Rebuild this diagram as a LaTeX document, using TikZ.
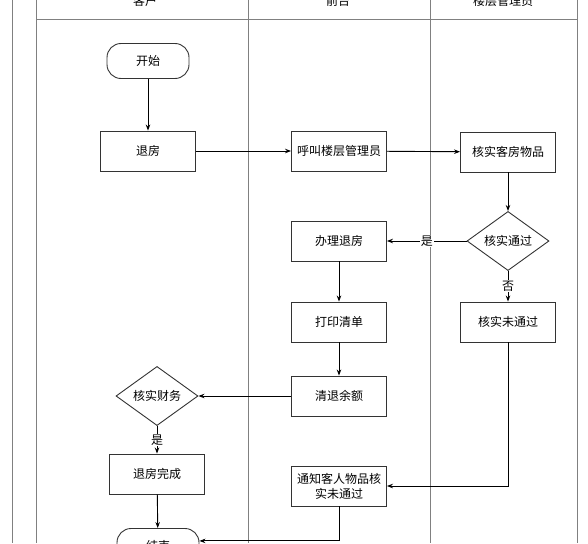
\documentclass[tikz,border=0pt]{standalone}
\usepackage{fontspec}
\newfontfamily\cjk{Noto Sans CJK SC}
\usetikzlibrary{shapes,arrows.meta}
\tikzset{
        box/.style={draw=black!80, line width=0.9pt, minimum width=95pt, minimum height=40pt, align=center, font=\cjk\fontsize{12}{15}\selectfont},
        term/.style={draw=black!80, line width=0.9pt, rounded corners=14pt, minimum width=82pt, minimum height=35pt, font=\cjk\fontsize{12}{15}\selectfont},
        cond/.style={draw=black!80, line width=0.9pt, diamond, minimum width=82pt, minimum height=49pt, inner sep=0pt, font=\cjk\fontsize{12}{15}\selectfont},
        head/.style={font=\cjk\fontsize{12}{15}\selectfont},
        lane/.style={draw=black!50, line width=0.9pt},
        flow/.style={-{Stealth[length=6pt,width=4.5pt]}, line width=0.9pt},
        tag/.style={fill=white, inner sep=1pt, font=\cjk\fontsize{12}{15}\selectfont}
    }

\begin{document}
\begin{tikzpicture}[x=1pt,y=-1pt]
            \useasboundingbox (0,0) rectangle (588,543);
            \clip (0,0) rectangle (588,543);

            % swim lanes
            \draw[lane] (12,0) -- (12,543);
            \draw[lane] (36,0) -- (36,543);
            \draw[lane] (248,0) -- (248,543);
            \draw[lane] (430,0) -- (430,543);
            \draw[lane] (577,0) -- (577,543);
            \draw[lane] (36,19) -- (577,19);
            \node [head] (h1) at (145,1) {客户};
            \node [head] (h2) at (338,1) {前台};
            \node [head] (h3) at (503,1) {楼层管理员};

            \node [term] (start)    at (148, 61)  {开始};
            \node [box]  (checkout) at (148, 151) {退房};
            \node [box]  (call)     at (339, 151) {呼叫楼层管理员};
            \node [box]  (verify)   at (508, 152) {核实客房物品};
            \node [cond] (pass)     at (508, 241) {核实通过};
            \node [box]  (handle)   at (339, 241) {办理退房};
            \node [box]  (print)    at (339, 322) {打印清单};
            \node [box]  (fail)     at (508, 322) {核实未通过};
            \node [box]  (refund)   at (339, 396) {清退余额};
            \node [cond] (finance)  at (157, 396) {核实财务};
            \node [box]  (done)     at (157, 474) {退房完成};
            \node [box]  (notify)   at (339, 486) {通知客人物品核\\实未通过};
            \node [term] (end)      at (158, 546) {结束};

            \draw[flow] (start) -- (checkout);
            \draw[flow] (checkout) -- (call);
            \draw[flow] (call) -- (verify);
            \draw[flow] (verify) -- (pass);
            \draw[flow] (pass) -- node[tag] {是} (handle);
            \draw[flow] (pass) -- node[tag] {否} (fail);
            \draw[flow] (handle) -- (print);
            \draw[flow] (print) -- (refund);
            \draw[flow] (refund) -- (finance);
            \draw[flow] (finance) -- node[tag] {是} (done);
            \draw[flow] (done) -- (end);
            \draw[flow] (fail) |- (notify);
            \draw[flow] (notify) |- (end.7);
        \end{tikzpicture}
\end{document}
